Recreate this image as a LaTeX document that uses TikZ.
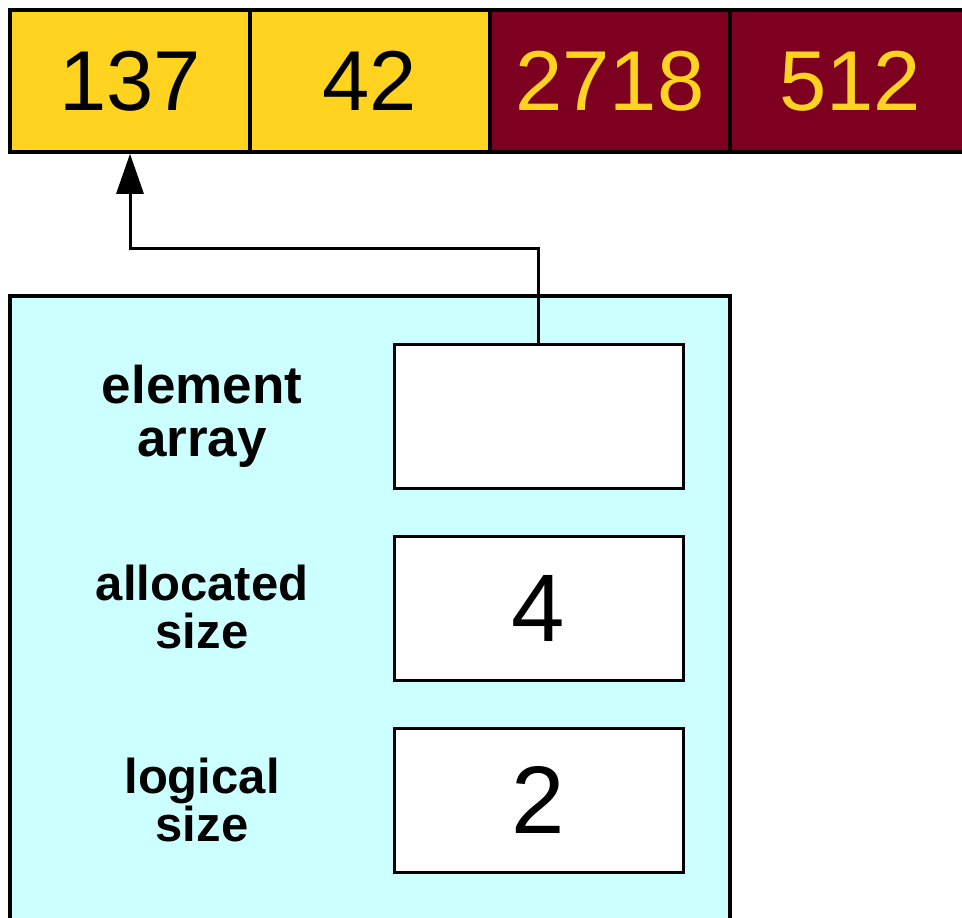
\documentclass[tikz,border=0pt]{standalone}
\usepackage{fontspec}
\setmainfont{Liberation Sans}
\usetikzlibrary{arrows.meta}
\usepackage{xcolor}

\definecolor{cellyellow}{HTML}{FFD320}
\definecolor{celldark}{HTML}{7E0021}
\definecolor{objcyan}{HTML}{CCFFFF}

\tikzset{
  cell/.style={draw, line width=3.5pt, inner sep=0pt, minimum width=240pt,
    minimum height=142pt, font=\fontsize{85}{85}\selectfont},
  used/.style={cell, fill=cellyellow, text=black},
  spare/.style={cell, fill=celldark, text=cellyellow},
  field/.style={draw, line width=3pt, fill=white, inner sep=0pt, minimum width=289pt,
    minimum height=144pt, font=\fontsize{96}{96}\selectfont},
  label/.style={align=center, font=\fontsize{53}{53}\selectfont\bfseries},
  small label/.style={align=center, font=\fontsize{49}{48}\selectfont\bfseries}
}

\begin{document}
\begin{tikzpicture}[x=1pt, y=-1pt]
      \useasboundingbox (0,0) rectangle (962,918);
      \clip (0,0) rectangle (962,918);

      % the array itself
      \node[used]  (c1) at (130,81) {137};
      \node[used]  (c2) at (370,81) {42};
      \node[spare] (c3) at (610,81) {2718};
      \node[spare] (c4) at (850,81) {512};

      % the object holding it
      \draw[fill=objcyan, line width=3.5pt] (10,296) rectangle (730,960);

      \node[field] (ptr)   at (538.5,416) {};
      \node[field] (alloc) at (538.5,608) {4};
      \node[field] (logic) at (538.5,800) {2};

      \node[label]       (ptrlbl)   at (202,416) {element\\array};
      \node[small label] (alloclbl) at (202,607) {allocated\\size};
      \node[small label] (logiclbl) at (202,800) {logical\\size};

      \coordinate (bend) at (538.5,248);
      \draw[-{Triangle[length=40pt,width=27pt]}, line width=3pt]
        (ptr.north) -- (ptr.north |- bend) -| (c1.south);
    \end{tikzpicture}
\end{document}
